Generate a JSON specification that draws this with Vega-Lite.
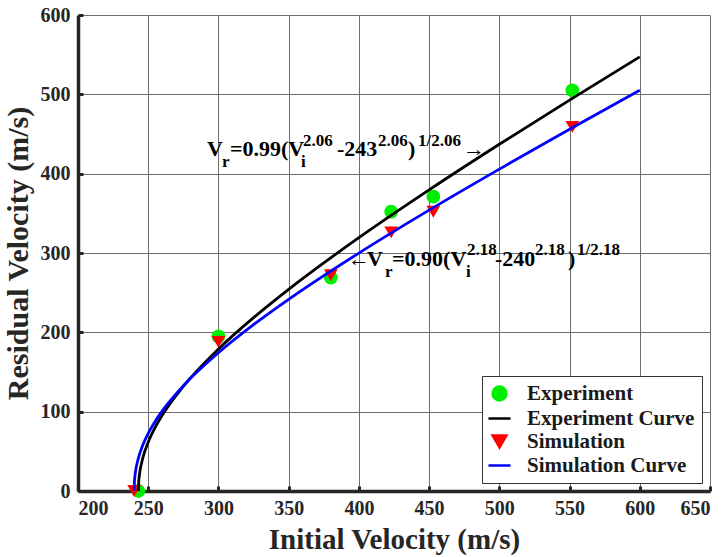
{
  "$schema": "https://vega.github.io/schema/vega-lite/v6.json",
  "width": 632,
  "height": 476,
  "autosize": {"type": "none"},
  "padding": {"left": 78, "top": 15, "right": 16, "bottom": 66},
  "background": "white",
  "config": {
    "view": {"stroke": null},
    "font": "Liberation Serif",
    "axis": {
      "grid": true,
      "gridColor": "#6e6e6e",
      "gridWidth": 1,
      "domainColor": "#262626",
      "domainWidth": 3.5,
      "tickColor": "#262626",
      "tickWidth": 3,
      "tickSize": -5,
      "labelFont": "Liberation Serif",
      "labelFontWeight": "bold",
      "labelFontSize": 20,
      "labelColor": "#262626",
      "titleFont": "Liberation Serif",
      "titleFontWeight": "bold",
      "titleColor": "#262626"
    }
  },
  "datasets": {
    "points": [
      {"vi": 243, "vr": 0, "series": "Experiment"},
      {"vi": 300, "vr": 195, "series": "Experiment"},
      {"vi": 380, "vr": 269, "series": "Experiment"},
      {"vi": 423, "vr": 352, "series": "Experiment"},
      {"vi": 453, "vr": 371, "series": "Experiment"},
      {"vi": 552, "vr": 505, "series": "Experiment"},
      {"vi": 240, "vr": 0, "series": "Simulation"},
      {"vi": 300, "vr": 188, "series": "Simulation"},
      {"vi": 380, "vr": 272, "series": "Simulation"},
      {"vi": 423, "vr": 326, "series": "Simulation"},
      {"vi": 453, "vr": 352, "series": "Simulation"},
      {"vi": 552, "vr": 459, "series": "Simulation"}
    ],
    "curves": [
      {"vi": 243, "vr": 0, "series": "Experiment Curve"},
      {"vi": 243.2, "vr": 10.87, "series": "Experiment Curve"},
      {"vi": 243.5, "vr": 16.96, "series": "Experiment Curve"},
      {"vi": 244, "vr": 23.77, "series": "Experiment Curve"},
      {"vi": 246, "vr": 40.6, "series": "Experiment Curve"},
      {"vi": 250, "vr": 61.52, "series": "Experiment Curve"},
      {"vi": 255, "vr": 80.32, "series": "Experiment Curve"},
      {"vi": 260, "vr": 95.62, "series": "Experiment Curve"},
      {"vi": 275, "vr": 131.97, "series": "Experiment Curve"},
      {"vi": 300, "vr": 178.95, "series": "Experiment Curve"},
      {"vi": 325, "vr": 218.51, "series": "Experiment Curve"},
      {"vi": 350, "vr": 254.24, "series": "Experiment Curve"},
      {"vi": 400, "vr": 319.3, "series": "Experiment Curve"},
      {"vi": 450, "vr": 379.56, "series": "Experiment Curve"},
      {"vi": 500, "vr": 437.07, "series": "Experiment Curve"},
      {"vi": 550, "vr": 492.77, "series": "Experiment Curve"},
      {"vi": 600, "vr": 547.26, "series": "Experiment Curve"},
      {"vi": 240, "vr": 0, "series": "Simulation Curve"},
      {"vi": 240.2, "vr": 11.95, "series": "Simulation Curve"},
      {"vi": 240.5, "vr": 18.2, "series": "Simulation Curve"},
      {"vi": 241, "vr": 25.02, "series": "Simulation Curve"},
      {"vi": 243, "vr": 41.52, "series": "Simulation Curve"},
      {"vi": 246, "vr": 57.25, "series": "Simulation Curve"},
      {"vi": 250, "vr": 72.68, "series": "Simulation Curve"},
      {"vi": 255, "vr": 88.03, "series": "Simulation Curve"},
      {"vi": 260, "vr": 100.99, "series": "Simulation Curve"},
      {"vi": 275, "vr": 132.64, "series": "Simulation Curve"},
      {"vi": 300, "vr": 174.31, "series": "Simulation Curve"},
      {"vi": 325, "vr": 209.62, "series": "Simulation Curve"},
      {"vi": 350, "vr": 241.57, "series": "Simulation Curve"},
      {"vi": 400, "vr": 299.92, "series": "Simulation Curve"},
      {"vi": 450, "vr": 354.06, "series": "Simulation Curve"},
      {"vi": 500, "vr": 405.77, "series": "Simulation Curve"},
      {"vi": 550, "vr": 455.95, "series": "Simulation Curve"},
      {"vi": 600, "vr": 505.07, "series": "Simulation Curve"}
    ],
    "labels": [
      {"x": 291.8, "y": 422.3, "t": "V", "role": "base"},
      {"x": 302.5, "y": 408.4, "t": "r", "role": "small"},
      {"x": 308.2, "y": 422.3, "t": "=0.99(V", "role": "base"},
      {"x": 358.8, "y": 408.4, "t": "i", "role": "small"},
      {"x": 360.2, "y": 434.9, "t": "2.06", "role": "small"},
      {"x": 384.4, "y": 422.3, "t": "-243", "role": "base"},
      {"x": 413.6, "y": 434.9, "t": "2.06", "role": "small"},
      {"x": 435.0, "y": 422.3, "t": ")", "role": "base"},
      {"x": 442.1, "y": 434.9, "t": "1/2.06", "role": "small"},
      {"x": 474.1, "y": 422.3, "t": "→", "role": "base"},
      {"x": 392.2, "y": 283.6, "t": "←", "role": "base"},
      {"x": 405.8, "y": 283.6, "t": "V", "role": "base"},
      {"x": 418.6, "y": 269.7, "t": "r", "role": "small"},
      {"x": 423.6, "y": 283.6, "t": "=0.90(V", "role": "base"},
      {"x": 476.3, "y": 269.7, "t": "i", "role": "small"},
      {"x": 477.0, "y": 297.5, "t": "2.18", "role": "small"},
      {"x": 496.9, "y": 283.6, "t": "-240", "role": "base"},
      {"x": 525.4, "y": 297.5, "t": "2.18", "role": "small"},
      {"x": 548.9, "y": 283.6, "t": ")", "role": "base"},
      {"x": 555.3, "y": 297.5, "t": "1/2.18", "role": "small"}
    ]
  },
  "layer": [
    {
      "data": {"name": "points"},
      "mark": {"type": "point", "filled": true, "opacity": 1, "size": 190},
      "encoding": {
        "x": {
          "field": "vi", "type": "quantitative",
          "scale": {"domain": [200, 650], "nice": false, "zero": false},
          "axis": {"values": [200, 250, 300, 350, 400, 450, 500, 550, 600, 650], "title": "Initial Velocity (m/s)", "titleFontSize": 29, "labelPadding": 12, "titlePadding": 7}
        },
        "y": {
          "field": "vr", "type": "quantitative",
          "scale": {"domain": [0, 600], "nice": false},
          "axis": {"values": [0, 100, 200, 300, 400, 500, 600], "title": "Residual Velocity (m/s)", "titleFontSize": 30, "labelPadding": 13, "titlePadding": 7}
        },
        "color": {
          "field": "series", "type": "nominal",
          "scale": {
            "domain": ["Experiment", "Experiment Curve", "Simulation", "Simulation Curve"],
            "range": ["#00ee00", "#000000", "#ff0000", "#0000ff"]
          },
          "legend": {
            "title": null,
            "orient": "bottom-right",
            "offset": 8,
            "strokeColor": "#333333",
            "fillColor": "white",
            "padding": 7,
            "labelFont": "Liberation Serif",
            "labelFontWeight": "bold",
            "labelFontSize": 21,
            "labelColor": "#1a1a1a",
            "labelLimit": 400,
            "labelOffset": 17,
            "rowPadding": 1,
            "symbolSize": 190,
            "symbolStrokeWidth": 2.5,
            "encode": {
              "symbols": {
                "update": {
                  "stroke": {"scale": "color", "field": "value"},
                  "strokeWidth": {"value": 2.5},
                  "opacity": {"value": 1}
                }
              }
            }
          }
        },
        "shape": {
          "field": "series", "type": "nominal",
          "scale": {
            "domain": ["Experiment", "Experiment Curve", "Simulation", "Simulation Curve"],
            "range": ["circle", "M-1.6,0H1.6", "triangle-down", "M-1.6,0H1.6"]
          }
        }
      }
    },
    {
      "data": {"name": "curves"},
      "mark": {"type": "line", "strokeWidth": 2.8, "interpolate": "monotone"},
      "encoding": {
        "x": {"field": "vi", "type": "quantitative"},
        "y": {"field": "vr", "type": "quantitative"},
        "color": {"field": "series", "type": "nominal", "legend": null}
      }
    },
    {
      "data": {"name": "labels"},
      "transform": [{"filter": "datum.role === 'base'"}],
      "mark": {"type": "text", "align": "left", "baseline": "alphabetic", "font": "Liberation Serif", "fontWeight": "bold", "fontSize": 22, "color": "#000000"},
      "encoding": {
        "x": {"field": "x", "type": "quantitative"},
        "y": {"field": "y", "type": "quantitative"},
        "text": {"field": "t"}
      }
    },
    {
      "data": {"name": "labels"},
      "transform": [{"filter": "datum.role === 'small'"}],
      "mark": {"type": "text", "align": "left", "baseline": "alphabetic", "font": "Liberation Serif", "fontWeight": "bold", "fontSize": 17, "color": "#000000"},
      "encoding": {
        "x": {"field": "x", "type": "quantitative"},
        "y": {"field": "y", "type": "quantitative"},
        "text": {"field": "t"}
      }
    }
  ]
}
